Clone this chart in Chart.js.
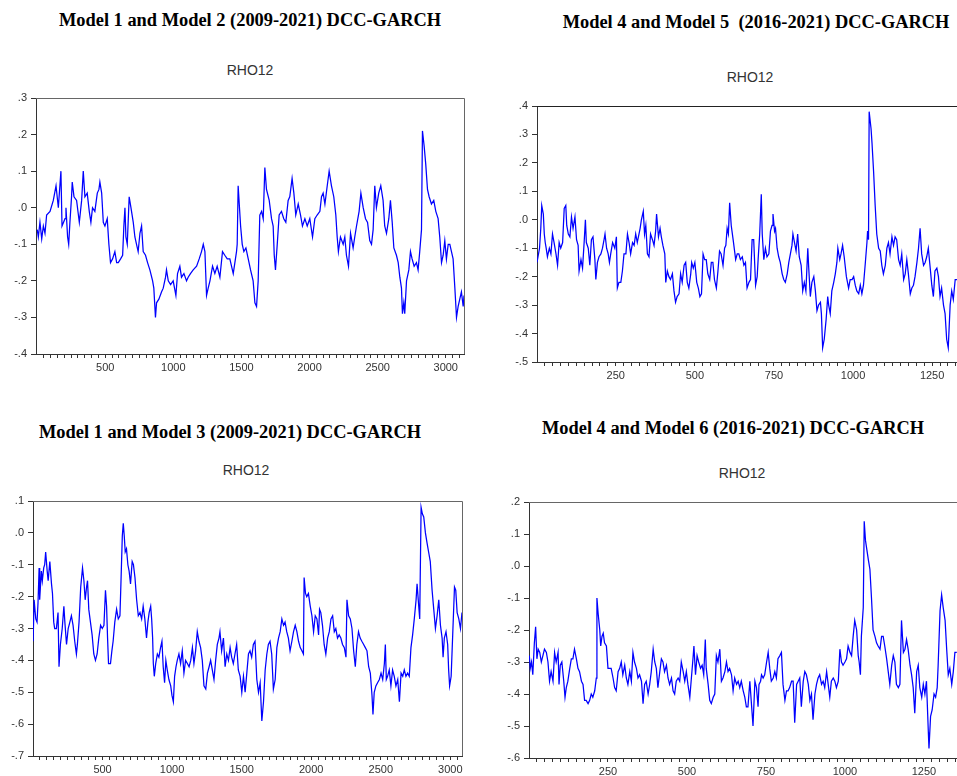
<!DOCTYPE html>
<html>
<head>
<meta charset="utf-8">
<title>DCC-GARCH RHO12</title>
<script src="https://cdn.jsdelivr.net/npm/chart.js@4.4.0/dist/chart.umd.min.js"></script>
<style>
  html, body { margin: 0; padding: 0; background: #fff; width: 957px; height: 776px; overflow: hidden; }
  canvas { position: absolute; }
  .title { position: absolute; transform: translate(-50%, -50%); white-space: pre;
           font-family: "Liberation Serif", "Times New Roman", serif; font-weight: bold;
           font-size: 18.4px; color: #000; }
  .sub { position: absolute; transform: translate(-50%, -50%); white-space: pre;
         font-family: "Liberation Sans", Arial, sans-serif; font-size: 14px; color: #333; }
</style>
</head>
<body>
<div class="title" style="left:250px;top:20px">Model 1 and Model 2 (2009-2021) DCC-GARCH</div>
<div class="title" style="left:756px;top:22px">Model 4 and Model 5  (2016-2021) DCC-GARCH</div>
<div class="title" style="left:230px;top:432px">Model 1 and Model 3 (2009-2021) DCC-GARCH</div>
<div class="title" style="left:733px;top:428px">Model 4 and Model 6 (2016-2021) DCC-GARCH</div>
<div class="sub" style="left:250px;top:70px">RHO12</div>
<div class="sub" style="left:750px;top:77px">RHO12</div>
<div class="sub" style="left:246px;top:470px">RHO12</div>
<div class="sub" style="left:742px;top:473px">RHO12</div>

<canvas id="c1"></canvas>
<canvas id="c2"></canvas>
<canvas id="c3"></canvas>
<canvas id="c4"></canvas>

<script>
// ---- Model 1 / Model 2 (2009-2021): observation index and RHO12 ----
const p1Obs = [
  1,9,21,34,46,58,70,95,119,139,
  156,175,183,205,212,224,232,241,253,258,
  271,290,310,327,339,351,368,383,395,407,
  424,442,454,461,474,486,498,515,527,539,
  554,571,584,596,613,628,637,645,652,662,
  676,689,706,718,730,742,755,767,779,796,
  811,828,848,857,869,877,894,914,926,943,
  950,963,980,999,1019,1031,1048,1060,1078,1097,
  1109,1126,1146,1171,1190,1207,1220,1232,1244,1256,
  1269,1288,1305,1322,1342,1361,1378,1396,1415,1440,
  1464,1469,1476,1494,1506,1518,1533,1550,1567,1586,
  1599,1611,1623,1635,1648,1660,1672,1684,1704,1721,
  1733,1741,1750,1763,1777,1794,1811,1826,1843,1855,
  1872,1885,1899,1917,1934,1948,1966,1983,2002,2022,
  2039,2056,2076,2088,2100,2113,2130,2144,2161,2178,
  2193,2203,2212,2227,2247,2259,2271,2286,2301,2320,
  2332,2345,2364,2377,2394,2411,2426,2442,2455,2467,
  2479,2491,2508,2523,2540,2552,2565,2582,2594,2607,
  2619,2638,2651,2663,2675,2682,2692,2699,2712,2729,
  2741,2753,2768,2785,2797,2809,2822,2829,2841,2853,
  2866,2878,2895,2912,2927,2944,2956,2969,2981,2993,
  3005,3018,3030,3042,3054,3067,3079,3091,3103,3115,
  3128,3134
];
const p1Rho = [
  -0.06,-0.08,-0.04,-0.085,-0.05,-0.07,-0.02,-0.01,0.02,0.06,
  0.00,0.10,-0.05,-0.03,0.00,-0.08,-0.10,-0.04,0.03,0.07,
  0.03,0.02,-0.04,0.02,0.10,0.03,0.04,-0.01,-0.04,0.00,
  -0.01,0.04,0.05,0.07,0.04,-0.04,-0.05,-0.03,-0.10,-0.15,
  -0.14,-0.12,-0.15,-0.15,-0.14,-0.13,-0.05,0.00,-0.08,-0.10,
  0.03,0.00,-0.04,-0.08,-0.10,-0.12,-0.07,-0.05,-0.12,-0.13,
  -0.15,-0.17,-0.20,-0.22,-0.30,-0.26,-0.25,-0.23,-0.22,-0.19,
  -0.17,-0.20,-0.21,-0.20,-0.24,-0.18,-0.16,-0.19,-0.18,-0.20,
  -0.19,-0.18,-0.17,-0.16,-0.14,-0.12,-0.10,-0.12,-0.24,-0.22,
  -0.20,-0.16,-0.18,-0.16,-0.19,-0.12,-0.13,-0.14,-0.14,-0.18,
  -0.12,-0.10,0.06,-0.05,-0.10,-0.12,-0.11,-0.14,-0.17,-0.20,
  -0.26,-0.27,-0.20,-0.02,-0.01,-0.03,0.11,0.05,0.02,-0.03,
  -0.05,-0.13,-0.17,-0.10,-0.02,-0.01,-0.03,-0.04,0.02,0.03,
  0.08,0.04,-0.02,0.01,-0.02,-0.05,-0.03,-0.05,-0.03,-0.08,
  -0.03,-0.02,-0.01,0.03,0.04,0.01,0.06,0.10,0.06,0.03,
  -0.02,-0.08,-0.12,-0.08,-0.10,-0.08,-0.13,-0.16,-0.07,-0.11,
  -0.08,-0.05,-0.01,0.04,0.00,-0.03,-0.04,-0.09,-0.10,-0.06,
  0.06,0.00,0.04,0.06,0.02,-0.05,-0.07,-0.03,0.02,-0.04,
  -0.11,-0.13,-0.15,-0.19,-0.22,-0.29,-0.26,-0.29,-0.20,-0.17,
  -0.12,-0.14,-0.16,-0.15,-0.17,-0.12,-0.06,0.21,0.17,0.12,
  0.05,0.03,0.01,0.02,-0.01,-0.03,-0.08,-0.15,-0.13,-0.09,
  -0.14,-0.10,-0.10,-0.12,-0.14,-0.22,-0.30,-0.27,-0.25,-0.23,
  -0.27,-0.24
];

// ---- Model 4 / Model 5 (2016-2021) ----
const p2Obs = [
  1,9,13,16,21,24,27,30,34,40,
  45,50,55,61,66,71,76,82,87,92,
  95,100,105,110,115,121,126,131,134,140,
  145,150,154,157,163,168,173,178,184,187,
  192,197,203,208,213,216,221,226,230,234,
  240,247,252,255,260,266,271,276,282,287,
  292,297,303,308,313,318,327,331,337,341,
  345,350,355,360,366,371,376,379,385,390,
  394,399,405,408,413,418,423,429,434,439,
  444,450,455,460,466,471,476,481,487,490,
  495,500,506,511,516,521,526,531,536,541,
  547,552,557,562,568,573,578,583,589,594,
  598,602,606,610,
  615,621,629,634,639,644,650,655,660,665,
  671,676,681,686,692,697,700,705,710,713,
  718,723,728,734,739,744,747,752,755,760,
  765,770,776,781,786,792,797,802,807,810,
  815,820,825,830,836,841,846,851,857,860,
  865,870,876,881,886,891,897,900,904,909,
  915,920,923,928,933,939,944,949,952,958,
  962,967,972,979,986,991,997,1002,1007,1012,
  1018,1023,1028,1033,1039,1044,1046,1049,1051,1057,
  1060,1065,1070,1075,1081,1086,1091,1096,1102,1107,
  1112,1117,1123,1128,1133,1138,1144,1149,1154,1160,
  1165,1170,1175,1181,1186,1191,1196,1202,1207,1212,
  1217,1223,1228,1233,1238,1244,1249,1254,1259,1265,
  1270,1275,1280,1286,1291,1296,1301,1307,1312,1317,
  1323,1329
];
const p2Rho = [
  -0.15,-0.10,-0.03,0.05,0.02,-0.05,-0.08,-0.10,-0.13,-0.10,
  -0.12,-0.05,-0.08,-0.12,-0.16,-0.08,-0.10,-0.08,0.04,0.05,
  -0.02,-0.05,-0.06,0.01,-0.03,0.01,-0.07,-0.09,-0.18,-0.14,
  -0.17,-0.08,0.00,-0.08,-0.10,-0.16,-0.07,-0.06,-0.14,-0.21,
  -0.15,-0.13,-0.12,-0.10,-0.07,-0.05,-0.10,-0.12,-0.15,-0.12,
  -0.08,-0.10,-0.06,-0.24,-0.22,-0.22,-0.18,-0.12,-0.12,-0.05,
  -0.08,-0.12,-0.08,-0.09,-0.05,-0.08,-0.03,0.00,0.03,-0.05,
  -0.02,-0.12,-0.13,-0.05,-0.07,-0.09,-0.04,0.02,-0.06,-0.03,
  -0.06,-0.09,-0.12,-0.22,-0.18,-0.20,-0.21,-0.19,-0.25,-0.29,
  -0.27,-0.26,-0.19,-0.22,-0.16,-0.15,-0.22,-0.24,-0.19,-0.15,
  -0.17,-0.15,-0.22,-0.24,-0.27,-0.26,-0.12,-0.14,-0.14,-0.19,
  -0.21,-0.15,-0.15,-0.21,-0.24,-0.18,-0.11,-0.12,-0.16,-0.10,
  -0.09,-0.03,-0.05,0.06,
  -0.02,-0.07,-0.14,-0.12,-0.12,-0.14,-0.13,-0.16,-0.15,-0.24,
  -0.22,-0.21,-0.07,-0.07,-0.23,-0.20,-0.14,-0.05,0.09,-0.05,
  -0.14,-0.10,-0.13,-0.12,-0.04,-0.02,0.02,-0.04,-0.03,-0.10,
  -0.13,-0.15,-0.19,-0.21,-0.22,-0.19,-0.15,-0.12,-0.09,-0.05,
  -0.08,-0.11,-0.05,-0.13,-0.16,-0.25,-0.22,-0.25,-0.10,-0.17,
  -0.27,-0.22,-0.20,-0.25,-0.32,-0.30,-0.29,-0.33,-0.45,-0.42,
  -0.35,-0.27,-0.30,-0.33,-0.25,-0.22,-0.19,-0.15,-0.10,-0.14,
  -0.12,-0.09,-0.13,-0.20,-0.24,-0.21,-0.21,-0.20,-0.23,-0.25,
  -0.26,-0.23,-0.26,-0.23,-0.15,-0.08,-0.04,-0.07,0.38,0.32,
  0.27,0.17,0.05,-0.05,-0.10,-0.11,-0.16,-0.19,-0.16,-0.10,
  -0.08,-0.12,-0.06,-0.09,-0.06,-0.07,-0.14,-0.16,-0.12,-0.21,
  -0.19,-0.14,-0.19,-0.26,-0.24,-0.23,-0.20,-0.15,-0.10,-0.03,
  -0.12,-0.16,-0.15,-0.13,-0.10,-0.17,-0.23,-0.27,-0.18,-0.17,
  -0.20,-0.27,-0.24,-0.30,-0.33,-0.42,-0.45,-0.30,-0.25,-0.28,
  -0.21,-0.21
];

// ---- Model 1 / Model 3 (2009-2021) ----
const p3Obs = [
  1,8,20,29,36,44,48,60,67,77,
  84,91,102,109,121,133,140,149,156,168,
  180,187,197,210,222,229,241,253,265,276,
  288,300,312,319,331,343,356,366,375,385,
  392,401,413,425,437,449,461,473,486,498,
  510,521,529,536,543,557,567,576,588,601,
  613,625,632,642,649,656,663,672,682,691,
  701,713,722,733,745,757,769,781,792,804,
  816,826,835,846,853,860,865,872,882,894,
  905,917,927,936,946,955,965,977,990,999,
  1009,1018,1028,1037,1049,1061,1073,1085,1097,1110,
  1122,1134,1146,1157,1169,1181,1193,1205,1217,1229,
  1242,1254,1266,1277,1289,1301,1313,1325,1337,1344,
  1356,1369,1381,1393,1405,1417,1428,1440,1452,1464,
  1476,1489,1501,1513,1525,1537,1549,
  1560,1572,1584,1596,1609,1621,1633,1645,1657,1669,
  1681,1692,1704,1716,1728,1741,1753,1765,1777,1789,
  1801,1812,1824,1836,1848,1861,1873,1885,1897,1909,
  1921,1933,1944,1949,1959,1968,1980,1993,2005,2017,
  2029,2041,2053,2060,2069,2081,2093,2105,2118,2130,
  2142,2154,2166,2177,2189,2201,2213,2225,2238,2250,
  2257,2269,2281,2293,2305,2317,2328,2340,2352,2364,
  2377,2389,2401,2413,2425,2437,2444,2453,2465,2477,
  2490,2502,2514,2526,2533,2540,2549,2561,2573,2585,
  2597,2609,2622,2634,2646,2658,2669,2681,2693,2705,
  2717,2729,2741,2754,2761,2773,2780,2790,2799,2809,
  2821,2832,2844,2856,2869,2881,2893,2905,2917,2929,
  2941,2948,2957,2969,2981,2988,2995,3006,3018,3030,
  3039,3049,3061,3073,3084
];
const p3Rho = [
  -0.34,-0.21,-0.27,-0.28,-0.22,-0.11,-0.21,-0.12,-0.15,-0.11,
  -0.10,-0.06,-0.12,-0.15,-0.09,-0.16,-0.19,-0.28,-0.30,-0.30,
  -0.25,-0.42,-0.35,-0.30,-0.23,-0.28,-0.35,-0.30,-0.28,-0.26,
  -0.29,-0.34,-0.38,-0.35,-0.28,-0.17,-0.11,-0.15,-0.21,-0.17,
  -0.15,-0.24,-0.28,-0.32,-0.38,-0.40,-0.38,-0.33,-0.29,-0.30,
  -0.29,-0.18,-0.23,-0.33,-0.41,-0.41,-0.37,-0.34,-0.28,-0.24,
  -0.27,-0.26,-0.16,-0.01,0.03,-0.01,-0.06,-0.05,-0.10,-0.12,
  -0.16,-0.09,-0.10,-0.14,-0.21,-0.26,-0.25,-0.27,-0.23,-0.27,
  -0.33,-0.28,-0.25,-0.23,-0.27,-0.33,-0.41,-0.45,-0.41,-0.38,
  -0.39,-0.36,-0.34,-0.42,-0.47,-0.40,-0.43,-0.46,-0.48,-0.51,
  -0.53,-0.45,-0.42,-0.40,-0.38,-0.41,-0.37,-0.44,-0.40,-0.41,
  -0.42,-0.40,-0.36,-0.41,-0.37,-0.31,-0.34,-0.36,-0.40,-0.48,
  -0.49,-0.44,-0.42,-0.40,-0.43,-0.46,-0.40,-0.35,-0.33,-0.31,
  -0.37,-0.33,-0.42,-0.38,-0.40,-0.36,-0.39,-0.41,-0.38,-0.35,
  -0.43,-0.45,-0.50,-0.45,-0.50,-0.44,-0.38,
  -0.37,-0.39,-0.35,-0.34,-0.46,-0.50,-0.47,-0.59,-0.53,-0.43,
  -0.38,-0.35,-0.34,-0.38,-0.49,-0.46,-0.36,-0.33,-0.31,-0.27,
  -0.29,-0.28,-0.31,-0.33,-0.37,-0.34,-0.31,-0.29,-0.31,-0.34,
  -0.36,-0.37,-0.38,-0.14,-0.19,-0.20,-0.19,-0.23,-0.26,-0.31,
  -0.26,-0.27,-0.32,-0.24,-0.25,-0.29,-0.35,-0.38,-0.33,-0.31,
  -0.27,-0.26,-0.31,-0.30,-0.33,-0.32,-0.33,-0.35,-0.36,-0.39,
  -0.21,-0.26,-0.27,-0.30,-0.37,-0.42,-0.35,-0.31,-0.33,-0.34,
  -0.35,-0.36,-0.37,-0.42,-0.44,-0.51,-0.57,-0.50,-0.48,-0.47,
  -0.46,-0.44,-0.46,-0.41,-0.35,-0.46,-0.45,-0.43,-0.48,-0.43,
  -0.45,-0.48,-0.46,-0.53,-0.44,-0.45,-0.43,-0.45,-0.44,-0.45,
  -0.36,-0.32,-0.27,-0.21,-0.16,-0.23,-0.27,0.08,0.06,0.05,
  0.00,-0.03,-0.06,-0.09,-0.18,-0.24,-0.30,-0.26,-0.21,-0.29,
  -0.33,-0.39,-0.33,-0.31,-0.35,-0.43,-0.48,-0.45,-0.31,-0.17,
  -0.18,-0.25,-0.27,-0.30,-0.25
];

// ---- Model 4 / Model 6 (2016-2021) ----
const p4Obs = [
  1,4,8,12,17,21,25,29,34,39,
  44,49,55,60,65,70,76,81,86,92,
  95,99,104,110,114,118,123,129,134,139,
  144,150,155,160,166,171,176,181,187,192,
  197,202,208,213,215,219,224,227,231,235,
  239,245,250,255,260,266,271,276,282,287,
  292,297,303,308,313,319,324,329,334,340,
  345,350,356,361,366,371,377,382,387,393,
  398,403,408,414,419,424,429,435,440,445,
  451,456,461,466,472,477,482,488,493,498,
  503,509,514,519,522,527,532,537,543,548,
  553,558,561,567,572,577,583,588,593,598,
  604,609,614,620,625,630,635,
  641,646,651,657,662,667,672,678,683,688,
  693,699,704,709,715,720,725,728,733,736,
  741,746,752,757,762,767,773,778,783,788,
  794,799,804,810,815,820,825,831,836,841,
  847,852,857,862,868,873,878,884,889,894,
  899,905,910,915,920,926,931,936,942,947,
  952,957,963,968,973,979,984,989,994,1000,
  1005,1010,1016,1021,1026,1031,1037,1042,1045,1049,
  1052,1058,1061,1065,1068,1074,1079,1084,1089,1095,
  1100,1105,1111,1116,1121,1126,1132,1137,1142,1148,
  1153,1158,1163,1169,1174,1179,1185,1190,1195,1200,
  1206,1211,1216,1221,1227,1232,1237,1243,1248,1253,
  1258,1264,1266,1271,1276,1282,1287,1292,1295,1301,
  1306,1311,1317,1322,1327,1332,1338,1343,1348,1354
];
const p4Rho = [
  -0.28,-0.32,-0.30,-0.34,-0.24,-0.19,-0.29,-0.26,-0.27,-0.30,
  -0.28,-0.26,-0.27,-0.30,-0.36,-0.33,-0.36,-0.27,-0.30,-0.27,
  -0.37,-0.31,-0.30,-0.36,-0.41,-0.38,-0.36,-0.32,-0.29,-0.29,
  -0.26,-0.29,-0.32,-0.33,-0.36,-0.37,-0.42,-0.42,-0.43,-0.42,
  -0.40,-0.41,-0.39,-0.35,-0.10,-0.15,-0.20,-0.25,-0.22,-0.21,
  -0.24,-0.25,-0.32,-0.32,-0.32,-0.35,-0.38,-0.39,-0.33,-0.32,
  -0.30,-0.34,-0.31,-0.35,-0.37,-0.33,-0.36,-0.27,-0.30,-0.32,
  -0.35,-0.34,-0.36,-0.43,-0.37,-0.36,-0.40,-0.37,-0.33,-0.26,
  -0.30,-0.32,-0.38,-0.33,-0.29,-0.30,-0.33,-0.31,-0.35,-0.37,
  -0.35,-0.39,-0.40,-0.36,-0.35,-0.36,-0.30,-0.33,-0.36,-0.33,
  -0.37,-0.41,-0.35,-0.29,-0.25,-0.34,-0.28,-0.30,-0.32,-0.31,
  -0.34,-0.23,-0.32,-0.37,-0.42,-0.43,-0.41,-0.40,-0.28,-0.30,
  -0.26,-0.36,-0.35,-0.33,-0.30,-0.33,-0.32,
  -0.34,-0.39,-0.35,-0.37,-0.36,-0.38,-0.36,-0.39,-0.41,-0.44,
  -0.44,-0.36,-0.43,-0.50,-0.36,-0.38,-0.44,-0.37,-0.36,-0.34,
  -0.35,-0.34,-0.30,-0.27,-0.32,-0.36,-0.35,-0.33,-0.35,-0.29,
  -0.28,-0.27,-0.37,-0.42,-0.39,-0.39,-0.38,-0.36,-0.36,-0.49,
  -0.37,-0.36,-0.35,-0.44,-0.36,-0.33,-0.34,-0.37,-0.42,-0.40,
  -0.48,-0.40,-0.37,-0.35,-0.34,-0.37,-0.36,-0.38,-0.33,-0.37,
  -0.41,-0.36,-0.35,-0.36,-0.38,-0.36,-0.26,-0.30,-0.31,-0.30,
  -0.29,-0.25,-0.27,-0.28,-0.22,-0.17,-0.20,-0.28,-0.30,-0.34,
  -0.22,-0.13,0.14,0.08,0.06,0.02,-0.01,-0.10,-0.20,-0.22,
  -0.24,-0.25,-0.26,-0.22,-0.22,-0.25,-0.29,-0.33,-0.37,-0.31,
  -0.28,-0.30,-0.37,-0.38,-0.37,-0.17,-0.27,-0.26,-0.23,-0.26,
  -0.31,-0.34,-0.38,-0.46,-0.33,-0.31,-0.38,-0.41,-0.37,-0.40,
  -0.36,-0.52,-0.57,-0.47,-0.45,-0.40,-0.41,-0.38,-0.31,-0.14,
  -0.09,-0.13,-0.17,-0.26,-0.34,-0.32,-0.37,-0.33,-0.27,-0.27
];

// ---- axis tick labels ----
const p1YTicks = [-0.4, -0.3, -0.2, -0.1, 0.0, 0.1, 0.2, 0.3];
const p2YTicks = [-0.5, -0.4, -0.3, -0.2, -0.1, 0.0, 0.1, 0.2, 0.3, 0.4];
const p3YTicks = [-0.7, -0.6, -0.5, -0.4, -0.3, -0.2, -0.1, 0.0, 0.1];
const p4YTicks = [-0.6, -0.5, -0.4, -0.3, -0.2, -0.1, 0.0, 0.1, 0.2];
const longXLabels = [500, 1000, 1500, 2000, 2500, 3000];
const shortXLabels = [250, 500, 750, 1000, 1250];

// plot-area placement and axis ranges for each panel
const panels = [
  { id: 'c1', obs: p1Obs, rho: p1Rho, yTicks: p1YTicks, xLabels: longXLabels, minorStep: 50,
    xMin: -8, xMax: 3134, box: { x: 36, y: 98, w: 428, h: 256 }, frame: '#666' },
  { id: 'c2', obs: p2Obs, rho: p2Rho, yTicks: p2YTicks, xLabels: shortXLabels, minorStep: 25,
    xMin: 1, xMax: 1335, box: { x: 537, y: 106, w: 422, h: 256 }, frame: '#222' },
  { id: 'c3', obs: p3Obs, rho: p3Rho, yTicks: p3YTicks, xLabels: longXLabels, minorStep: 50,
    xMin: 0, xMax: 3084, box: { x: 33, y: 501, w: 429, h: 255 }, frame: '#666' },
  { id: 'c4', obs: p4Obs, rho: p4Rho, yTicks: p4YTicks, xLabels: shortXLabels, minorStep: 25,
    xMin: 0, xMax: 1361, box: { x: 529, y: 502, w: 430, h: 256 }, frame: '#666' }
];

const AXIS_W = 40, PAD_TOP = 12, PAD_RIGHT = 8, AXIS_H = 30;
const tickFont = { family: '"Liberation Sans", Arial, sans-serif', size: 11 };

// ".3", ".0", "-.1" style labels
function fmtY(v) {
  return Number(v).toFixed(1).replace(/^(-?)0\./, '$1.');
}

// top and right sides of the plot frame
const framePlugin = {
  id: 'frame',
  afterDraw(chart, args, opts) {
    const a = chart.chartArea, ctx = chart.ctx;
    ctx.save();
    ctx.strokeStyle = opts.color || '#666';
    ctx.lineWidth = 1;
    ctx.beginPath();
    ctx.moveTo(Math.round(a.left), Math.round(a.top) + 0.5);
    ctx.lineTo(Math.round(a.right) + 0.5, Math.round(a.top) + 0.5);
    ctx.lineTo(Math.round(a.right) + 0.5, Math.round(a.bottom));
    ctx.stroke();
    ctx.restore();
  }
};

panels.forEach(p => {
  const cv = document.getElementById(p.id);
  const W = p.box.w + AXIS_W + PAD_RIGHT;
  const H = p.box.h + PAD_TOP + AXIS_H;
  cv.width = W; cv.height = H;
  cv.style.left = (p.box.x - AXIS_W) + 'px';
  cv.style.top = (p.box.y - PAD_TOP) + 'px';
  cv.style.width = W + 'px'; cv.style.height = H + 'px';

  const points = p.obs.map((o, i) => ({ x: o, y: p.rho[i] }));
  const minorTicks = [];
  for (let v = p.minorStep; v < p.xMax; v += p.minorStep) minorTicks.push({ value: v });

  new Chart(cv, {
    type: 'line',
    data: {
      datasets: [{
        data: points,
        borderColor: '#0000ff',
        borderWidth: 1.25,
        pointRadius: 0,
        tension: 0,
        fill: false
      }]
    },
    plugins: [framePlugin],
    options: {
      responsive: false,
      animation: false,
      devicePixelRatio: 1,
      layout: { padding: { top: PAD_TOP, right: PAD_RIGHT, left: 0, bottom: 0 } },
      plugins: {
        legend: { display: false },
        tooltip: { enabled: false },
        frame: { color: p.frame }
      },
      scales: {
        x: {
          type: 'linear',
          min: p.xMin,
          max: p.xMax,
          afterBuildTicks: s => { s.ticks = minorTicks.map(t => ({ value: t.value })); },
          afterFit: s => { s.height = AXIS_H; },
          ticks: {
            autoSkip: false,
            maxRotation: 0,
            minRotation: 0,
            padding: 3,
            color: '#333',
            font: tickFont,
            callback: v => (p.xLabels.includes(v) ? String(v) : '')
          },
          grid: { display: true, drawOnChartArea: false, drawTicks: true, tickLength: 4, color: '#333' },
          border: { display: true, color: '#333', width: 1 }
        },
        y: {
          type: 'linear',
          min: p.yTicks[0],
          max: p.yTicks[p.yTicks.length - 1],
          afterBuildTicks: s => { s.ticks = p.yTicks.map(v => ({ value: v })); },
          afterFit: s => { s.width = AXIS_W; },
          ticks: {
            autoSkip: false,
            padding: 4,
            color: '#333',
            font: tickFont,
            callback: v => fmtY(v)
          },
          grid: { display: true, drawOnChartArea: false, drawTicks: true, tickLength: 5, color: '#333' },
          border: { display: true, color: '#333', width: 1 }
        }
      }
    }
  });
});
</script>
</body>
</html>
